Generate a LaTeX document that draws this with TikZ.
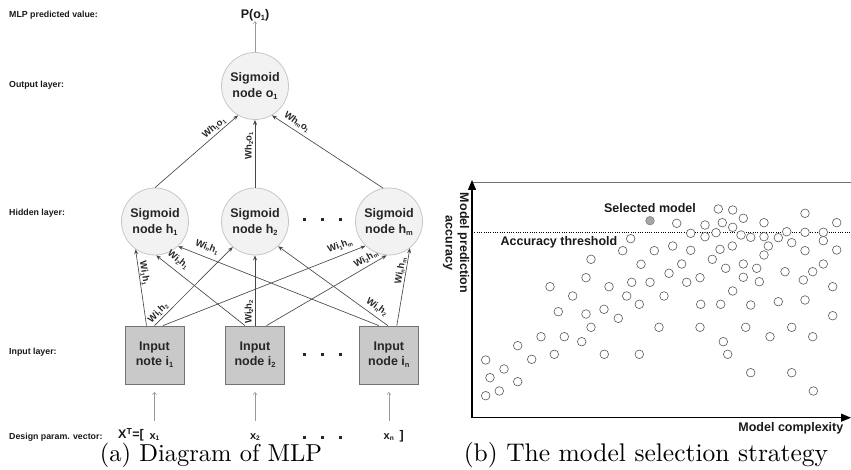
\documentclass[tikz,border=0pt]{standalone}
\usepackage{fontspec}
\usepackage{graphicx}
\newfontfamily\arial{Liberation Sans}
\usetikzlibrary{arrows.meta}
\newcommand\sbx[1]{\raisebox{-0.3ex}{\scalebox{0.6}{#1}}}
\newcommand\wl[4]{W#1\sbx{#2}#3\sbx{#4}}
\begin{document}
\begin{tikzpicture}[x=1pt,y=-1pt,
  neuron/.style={circle, minimum size=67pt, inner sep=0pt, draw=black!22, line width=0.8pt, fill=black!5,
    font=\arial\bfseries\fontsize{12.5}{16}\selectfont, text=black!85, align=center},
  inbox/.style={rectangle, minimum width=59pt, minimum height=58pt, inner sep=0pt, draw=black!55, line width=0.8pt, fill=black!21,
    font=\arial\bfseries\fontsize{12.5}{15}\selectfont, text=black!85, align=center},
  conn/.style={draw=black!72, line width=0.65pt, -{Stealth[length=5pt,width=4pt]}},
  thinarr/.style={draw=black!40, line width=0.5pt, -{Straight Barb[length=2.5pt,width=4pt]}},
  wlab/.style={font=\arial\bfseries\fontsize{9.5}{10}\selectfont, inner sep=0pt, text=black!85},
  lay/.style={font=\arial\bfseries\fontsize{8.8}{10}\selectfont, anchor=west, inner sep=0pt, text=black!90},
  dotsq/.style={rectangle, fill=black!85, minimum size=3pt, inner sep=0pt},
  pt/.style={circle, draw=black!65, line width=0.6pt, minimum size=8.6pt, inner sep=0pt, fill=white},
  big/.style={font=\arial\bfseries\fontsize{12.5}{15}\selectfont, inner sep=0pt, text=black!90},
  caption/.style={inner sep=0pt, anchor=base}
]
\useasboundingbox (0,0) rectangle (851,470);

% ---------- left: MLP ----------
\node[lay] (l1) at (9,15) {MLP predicted value:};
\node[lay] (l2) at (9,85) {Output layer:};
\node[lay] (l3) at (9,213) {Hidden layer:};
\node[lay] (l4) at (9,352) {Input layer:};
\node[lay] (l5) at (9,437) {Design param. vector:};

\node[neuron] (o1) at (255,86) {Sigmoid\\node o\sbx{1}};
\node[neuron] (h1) at (155,221.5) {Sigmoid\\node h\sbx{1}};
\node[neuron] (h2) at (255,221.5) {Sigmoid\\node h\sbx{2}};
\node[neuron] (hm) at (389,221.5) {Sigmoid\\node h\sbx{m}};
\node[inbox] (i1) at (154.5,355) {Input\\note i\sbx{1}};
\node[inbox] (i2) at (255,355) {Input\\node i\sbx{2}};
\node[inbox] (in) at (388.8,355) {Input\\node i\sbx{n}};

\node[big] (p) at (255,15) {P(o\sbx{1})};
\draw[thinarr] (o1.north) -- (p.south);

% dots
\foreach \x [count=\k] in {304,322,340}{
  \node[dotsq] (dh\k) at (\x,220) {};
  \node[dotsq] (di\k) at (\x,354) {};
  \node[dotsq] (dx\k) at (\x,437) {};
}

% hidden -> output
\draw[conn] (h1.north) -- (o1.240);
\draw[conn] (h2.north) -- (o1.south);
\draw[conn] (hm.100) -- (o1.300);
\node[wlab, rotate=41] (w11) at (214,128) {\wl{h}{1}{o}{1}};
\node[wlab, rotate=90] (w21) at (249,146) {\wl{h}{2}{o}{1}};
\node[wlab, rotate=-34] (wm1) at (297,122) {\wl{h}{m}{o}{1}};

% input -> hidden
\draw[conn] ([xshift=-8pt]i1.north) -- (h1.235);
\draw[conn] (i1.north) -- (h2.229);
\draw[conn] ([xshift=8.5pt]i1.north) -- (hm.226);
\draw[conn] ([xshift=-10pt]i2.north) -- (h1.272);
\draw[conn] (i2.north) -- (h2.south);
\draw[conn] ([xshift=11.5pt]i2.north) -- (hm.266);
\draw[conn] ([xshift=-10pt]in.north) -- (h1.313);
\draw[conn] ([xshift=-1pt]in.north) -- (h2.313);
\draw[conn] ([xshift=8pt]in.north) -- (hm.308);

\node[wlab, rotate=-81] (a11) at (144.5,273) {\wl{i}{1}{h}{1}};
\node[wlab, rotate=-38] (a21) at (178,260) {\wl{i}{2}{h}{1}};
\node[wlab, rotate=-21] (an1) at (207,247) {\wl{i}{n}{h}{1}};
\node[wlab, rotate=45] (a12) at (158,313) {\wl{i}{1}{h}{2}};
\node[wlab, rotate=90] (a22) at (249,312) {\wl{i}{2}{h}{2}};
\node[wlab, rotate=-36] (an2) at (377,307) {\wl{i}{n}{h}{2}};
\node[wlab, rotate=20] (a1m) at (340,246) {\wl{i}{1}{h}{m}};
\node[wlab, rotate=29] (a2m) at (366,259) {\wl{i}{2}{h}{m}};
\node[wlab, rotate=80] (anm) at (400.5,271) {\wl{i}{n}{h}{m}};

% inputs
\node[big] (xt) at (131,435) {X\textsuperscript{T}=[};
\node[big, font=\arial\bfseries\fontsize{11}{13}\selectfont] (x1) at (154.5,437) {x\sbx{1}};
\node[big, font=\arial\bfseries\fontsize{11}{13}\selectfont] (x2) at (255,437) {x\sbx{2}};
\node[big, font=\arial\bfseries\fontsize{11}{13}\selectfont] (xn) at (388.8,437) {x\sbx{n}};
\node[big] (rb) at (401.7,436) {]};
\draw[thinarr, shorten <=12pt, shorten >=7.5pt] (x1.north) -- (i1.south);
\draw[thinarr, shorten <=12pt, shorten >=7.5pt] (x2.north) -- (i2.south);
\draw[thinarr, shorten <=12pt, shorten >=7.5pt] (xn.north) -- (in.south);

\node[caption] (capa) at (211,461) {\scalebox{2.45}{\fontsize{10}{12}\selectfont (a) Diagram of MLP}};

% ---------- right: scatter ----------
\coordinate (org) at (472,417.7);
\coordinate (ytop) at (472,180);
\coordinate (xend) at (851,417.7);
\coordinate (tl) at (472,182.3);
\coordinate (tr) at (851,182.3);
\coordinate (thl) at (472,232);
\coordinate (thr) at (851,232);
\draw[black!55, line width=0.9pt] (tl) -- (tr);
\draw[dash pattern=on 1pt off 1.3pt, line width=0.8pt] (thl) -- (thr);
\draw[line width=1.2pt, -{Triangle[length=10pt,width=8pt]}] (org) -- (ytop);
\draw[line width=1.2pt, -{Triangle[length=10pt,width=8pt]}] (org) -- (xend);

\foreach \x/\y [count=\i] in {718.3/209,732.7/210,805/213.3,676.7/223.3,705/225,722.3/222.7,743.3/218.3,764/222.7,836.7/222.7,732.7/227.3,
690.7/233.3,705/236.7,716/232.7,741/235,750.7/237.3,764/236.7,778.3/237.7,786.7/231.7,805/232.3,823.3/232.3,630.7/238.7,791.7/242.7,823.3/240.7,768.3/246,
622.7/250.7,654.3/250.7,672.7/246,690.7/250.3,720/249.3,732.3/246,805/250.7,836.7/250,764/255,
591/259.3,641/264.3,681.7/264,712.3/259.3,743.3/264,725.7/268.3,756.7/268.3,823.3/264,669/273.3,785/271.7,812.7/271.7,
586/277.7,631.7/282.3,650/282.3,686.7/282.3,700/277.7,743.3/277.3,759.3/281.7,803.3/280,
550/286.7,609/286.7,832.7/286.7,572.7/296,626.7/296,664/296,732.7/291,
558.3/311.7,586/314,604/309.3,618.3/318.3,639.3/304.3,700.7/304.3,720.7/304.3,750.7/305,778.3/301.7,805/300,832.7/315.7,
591/327.3,659/327.3,700/327.3,745.7/327.3,791.7/327.3,
541/336.7,564.3/336.7,581.7/341.7,770/336.7,812.7/336.7,723.3/341.7,
517.7/345.7,727.7/354.3,531.7/359.3,554.3/354.3,604.3/354.3,639.3/354.3,
485.7/360,504/369,490/377.7,517.7/381.7,750.7/372.7,791.7/372.7,
499.3/391,485.7/395.7,813.3/391}
  \node[pt] (s\i) at (\x,\y) {};
\node[pt, fill=black!35, draw=black!50] (sel) at (650,220.7) {};

\node[big] (tsel) at (650,208) {Selected model};
\node[big] (tacc) at (559,242) {Accuracy threshold};
\node[big, anchor=east] (tcx) at (843.5,428.5) {Model complexity};
\node[big, rotate=-90, align=center, font=\arial\bfseries\fontsize{12.5}{14.5}\selectfont] (tmp) at (456,243) {Model prediction\\accuracy};

\node[caption] (capb) at (646,461) {\scalebox{2.55}{\fontsize{10}{12}\selectfont (b) The model selection strategy}};
\end{tikzpicture}
\end{document}
